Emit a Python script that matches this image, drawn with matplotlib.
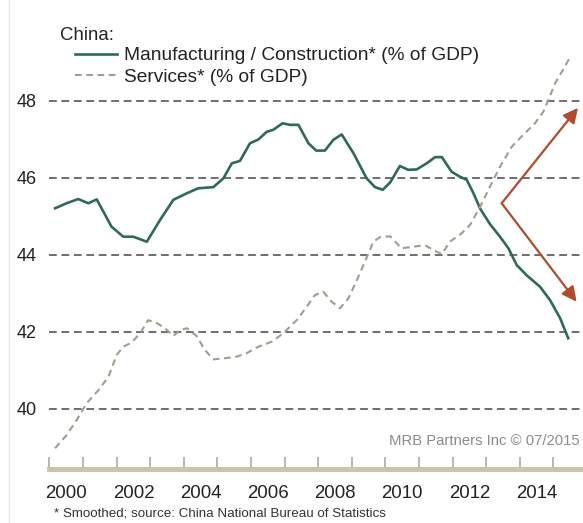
import matplotlib
matplotlib.use("Agg")
import matplotlib.pyplot as plt
from matplotlib.lines import Line2D

plt.rcParams["font.family"] = ["Liberation Sans", "DejaVu Sans"]

# ---------------------------------------------------------------------------
# China: sector shares of GDP (smoothed), %
# ---------------------------------------------------------------------------

mfg_years = [2000.17, 2000.51, 2000.86, 2001.16, 2001.41, 2001.85, 2002.20, 2002.50,
             2002.90, 2003.29, 2003.69, 2004.09, 2004.43, 2004.88, 2005.18, 2005.43,
             2005.67, 2005.97, 2006.22, 2006.47, 2006.66, 2006.94, 2007.16, 2007.41,
             2007.71, 2007.94, 2008.20, 2008.45, 2008.70, 2009.05, 2009.44, 2009.69,
             2009.92, 2010.14, 2010.43, 2010.68, 2010.93, 2011.23, 2011.48, 2011.68,
             2011.97, 2012.22, 2012.42, 2012.62, 2012.82, 2013.11, 2013.41, 2013.66,
             2013.91, 2014.20, 2014.60, 2014.90, 2015.20, 2015.44]
mfg_share = [45.21, 45.34, 45.45, 45.34, 45.44, 44.73, 44.47, 44.47,
             44.34, 44.90, 45.43, 45.60, 45.73, 45.76, 45.99, 46.38,
             46.44, 46.90, 47.00, 47.20, 47.25, 47.42, 47.38, 47.38,
             46.90, 46.71, 46.71, 46.99, 47.13, 46.64, 45.99, 45.76,
             45.69, 45.88, 46.31, 46.21, 46.22, 46.38, 46.54, 46.54,
             46.16, 46.03, 45.95, 45.60, 45.20, 44.80, 44.47, 44.17,
             43.73, 43.47, 43.17, 42.82, 42.35, 41.83]

svc_years = [2000.17, 2000.51, 2000.81, 2001.11, 2001.46, 2001.76, 2002.00, 2002.20,
             2002.45, 2002.70, 2002.94, 2003.19, 2003.44, 2003.69, 2003.89, 2004.09,
             2004.38, 2004.63, 2004.88, 2005.23, 2005.57, 2005.87, 2006.22, 2006.62,
             2006.96, 2007.36, 2007.66, 2007.90, 2008.15, 2008.40, 2008.65, 2008.90,
             2009.15, 2009.39, 2009.64, 2009.84, 2010.14, 2010.48, 2010.83, 2011.18,
             2011.43, 2011.68, 2011.92, 2012.27, 2012.52, 2012.82, 2013.11, 2013.41,
             2013.76, 2014.10, 2014.45, 2014.70, 2014.85, 2015.05, 2015.25, 2015.50]
svc_share = [38.97, 39.31, 39.70, 40.14, 40.48, 40.83, 41.39, 41.61,
             41.72, 41.96, 42.30, 42.23, 42.09, 41.89, 42.04, 42.09,
             41.89, 41.52, 41.28, 41.31, 41.35, 41.44, 41.61, 41.74,
             41.96, 42.30, 42.65, 42.95, 43.04, 42.78, 42.61, 42.87,
             43.34, 43.82, 44.34, 44.46, 44.48, 44.17, 44.21, 44.25,
             44.12, 44.02, 44.34, 44.56, 44.78, 45.25, 45.77, 46.29,
             46.81, 47.12, 47.42, 47.72, 48.03, 48.46, 48.76, 49.15]

# diverging arrows: common origin, upper and lower tips (year, % of GDP)
arrow_origin = (2013.46, 45.34)
arrow_up = (2015.73, 47.82)
arrow_down = (2015.69, 42.78)

y_ticks = [40, 42, 44, 46, 48]
year_ticks = list(range(2000, 2016))
year_labels = [str(y) for y in range(2000, 2015, 2)]

GREEN = "#2d6b55"
TAN = "#a39d8e"
BROWN = "#b24a2c"
BAR = "#cbc3ad"


def main():
    fig = plt.figure(figsize=(5.83, 5.23), dpi=100)
    ax = fig.add_axes([0.0847, 0.1023, 0.9153, 0.8212])

    ax.plot(mfg_years, mfg_share, color=GREEN, lw=1.9,
            label="Manufacturing / Construction* (% of GDP)", zorder=3)
    ax.plot(svc_years, svc_share, color=TAN, lw=1.5, linestyle=(0, (3.2, 2.2)),
            label="Services* (% of GDP)", zorder=3)

    for tip in (arrow_up, arrow_down):
        ax.annotate("", xy=tip, xytext=arrow_origin,
                    arrowprops=dict(arrowstyle="-|>", color=BROWN, lw=1.6,
                                    mutation_scale=22, shrinkA=0, shrinkB=0),
                    zorder=4)

    ax.set_xlim(2000, 2015.88)
    ax.set_ylim(38.416, 49.586)

    # y axis: dashed gridlines, no tick marks
    ax.set_yticks(y_ticks)
    ax.yaxis.grid(True, color="#6e6e6e", lw=1.4, linestyle=(0, (4, 2.4)))
    ax.tick_params(axis="y", length=0, pad=9, labelsize=13, labelcolor="#222222")

    # x axis: year boundaries as ticks, labels centred on each year
    ax.set_xticks(year_ticks)
    ax.set_xticklabels([])
    ax.set_xticks([y + 0.5 for y in range(2000, 2015, 2)], minor=True)
    ax.set_xticklabels(year_labels, minor=True)
    ax.tick_params(axis="x", which="major", direction="in", length=8.3,
                   width=1.1, color="#aaa393")
    ax.tick_params(axis="x", which="minor", length=0, pad=11.5,
                   labelsize=13.4, labelcolor="#222222")

    for side in ("top", "right", "left"):
        ax.spines[side].set_visible(False)
    ax.spines["bottom"].set_color(BAR)
    ax.spines["bottom"].set_linewidth(3.6)

    leg = ax.legend(loc="upper left", bbox_to_anchor=(75 / 583, 1 - 47 / 523),
                    bbox_transform=fig.transFigure, frameon=False, fontsize=13.8,
                    handlelength=2.2, handletextpad=0.36, labelspacing=0.2,
                    borderpad=0, borderaxespad=0)
    for txt in leg.get_texts():
        txt.set_color("#222222")

    fig.text(60 / 583, 1 - 35 / 523, "China:", fontsize=13.4, color="#222222",
             ha="left", va="center")
    fig.text(580 / 583, 1 - 441 / 523, "MRB Partners Inc \u00a9 07/2015",
             fontsize=10.7, color="#8c8c8c", ha="right", va="center")
    fig.text(54 / 583, 1 - 513 / 523,
             "* Smoothed; source: China National Bureau of Statistics",
             fontsize=9.6, color="#333333", ha="left", va="center")

    # thin frame edge on the left
    fig.add_artist(Line2D([8.5 / 583, 8.5 / 583], [0, 1], color="#e4e4e4",
                          lw=0.8, transform=fig.transFigure))

    fig.savefig("out.png", dpi=100, facecolor="white")


if __name__ == "__main__":
    main()
